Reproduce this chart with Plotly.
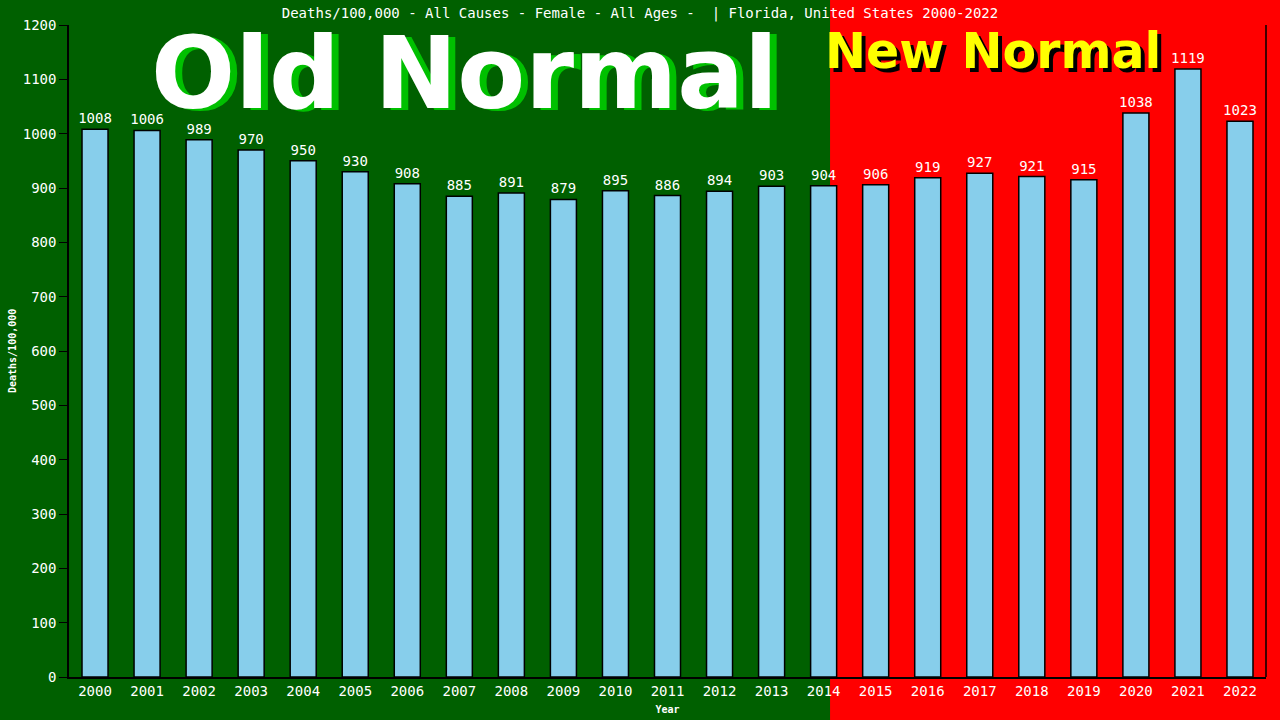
import plotly.graph_objects as go

years = [str(y) for y in range(2000, 2023)]
deaths = [1008, 1006, 989, 970, 950, 930, 908, 885, 891, 879, 895, 886, 894,
          903, 904, 906, 919, 927, 921, 915, 1038, 1119, 1023]
title_text = "Deaths/100,000 - All Causes - Female - All Ages -  | Florida, United States 2000-2022"
y_ticks = list(range(0, 1201, 100))

MONO = "DejaVu Sans Mono"

fig = go.Figure()
fig.add_trace(go.Bar(
    x=years, y=deaths,
    marker=dict(color="#87CEEB", line=dict(color="black", width=1.5)),
    text=[str(v) for v in deaths], textposition="outside",
    constraintext="none",
    textfont=dict(color="white", family=MONO, size=14),
    cliponaxis=False,
))

fig.update_layout(
    width=1280, height=720,
    margin=dict(l=69, r=14, t=25, b=43, autoexpand=False),
    paper_bgcolor="#006000",
    plot_bgcolor="rgba(0,0,0,0)",
    bargap=0.5,
    showlegend=False,
    font=dict(family=MONO, color="white", size=14),
    title=dict(text=title_text, x=0.5, xanchor="center", y=0.982, yanchor="middle",
               font=dict(family=MONO, size=14, color="white")),
    xaxis=dict(showgrid=False, showline=True, linecolor="black", linewidth=1.5,
               automargin=False,
               ticks="", tickfont=dict(color="white", family=MONO, size=14),
               title=dict(text="<b>Year</b>", font=dict(size=10, color="white", family=MONO),
                          standoff=8)),
    yaxis=dict(range=[0, 1200], tickvals=y_ticks, showgrid=False, zeroline=False,
               automargin=False,
               showline=True, linecolor="black", linewidth=1.5,
               ticks="outside", ticklen=8, tickcolor="black",
               tickfont=dict(color="white", family=MONO, size=14)),
    shapes=[
        dict(type="rect", xref="paper", yref="paper", x0=0.6358, x1=1.05, y0=-0.2, y1=1.2,
             fillcolor="#ff0000", line=dict(width=0), layer="below"),
        dict(type="line", xref="paper", yref="paper", x0=1, x1=1, y0=0, y1=1,
             line=dict(color="black", width=1.5)),
    ],
    annotations=[
        dict(text="<b>Old Normal</b>", xref="paper", yref="paper", x=0.33, y=0.925,
             xanchor="center", yanchor="middle", showarrow=False,
             font=dict(family="DejaVu Sans", size=99, color="white",
                       shadow="7px 2px 0px #00c000")),
        dict(text="<b>New Normal</b>", xref="paper", yref="paper", x=0.772, y=0.96,
             xanchor="center", yanchor="middle", showarrow=False,
             font=dict(family="DejaVu Sans", size=49, color="#ffff00",
                       shadow="4px 4px 0px #000000")),
        dict(text="<b>Deaths/100,000</b>", xref="paper", yref="paper", x=-0.0476, y=0.5,
             xanchor="center", yanchor="middle", showarrow=False, textangle=-90,
             font=dict(family=MONO, size=10, color="white")),
    ],
)

fig.write_html("out.html", config={"displayModeBar": False},
               post_script="document.body.style.margin='0';document.body.style.background='#006000';")
